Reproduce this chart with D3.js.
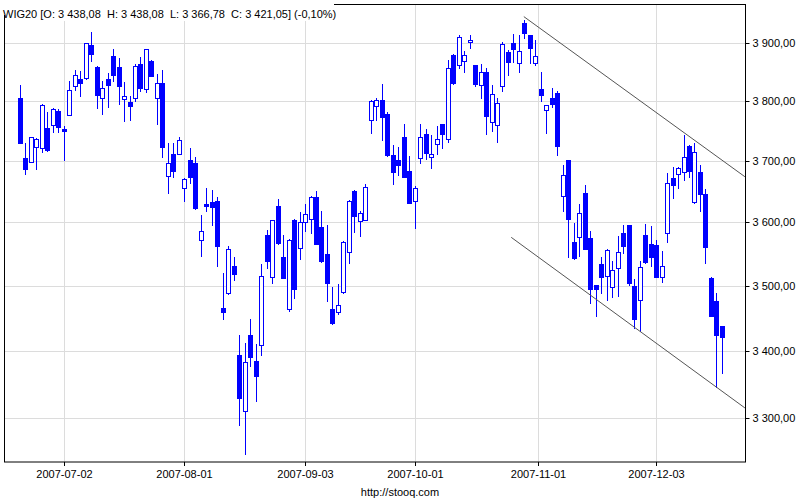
<!DOCTYPE html>
<html><head><meta charset="utf-8">
<script src="https://cdn.jsdelivr.net/npm/d3@7"></script>
<style>body{margin:0;background:#fff}svg{display:block}</style>
</head><body><svg id="c" width="800" height="500"></svg>
<script>
const dates = [
"2007-06-20","2007-06-21","2007-06-22","2007-06-25","2007-06-26","2007-06-27","2007-06-28","2007-06-29",
"2007-07-02","2007-07-03","2007-07-04","2007-07-05","2007-07-06","2007-07-09","2007-07-10","2007-07-11","2007-07-12","2007-07-13",
"2007-07-16","2007-07-17","2007-07-18","2007-07-19","2007-07-20","2007-07-23","2007-07-24","2007-07-25","2007-07-26","2007-07-27","2007-07-30","2007-07-31",
"2007-08-01","2007-08-02","2007-08-03","2007-08-06","2007-08-07","2007-08-08","2007-08-09","2007-08-10","2007-08-13","2007-08-14","2007-08-16","2007-08-17",
"2007-08-20","2007-08-21","2007-08-22","2007-08-23","2007-08-24","2007-08-27","2007-08-28","2007-08-29","2007-08-30","2007-08-31",
"2007-09-03","2007-09-04","2007-09-05","2007-09-06","2007-09-07","2007-09-10","2007-09-11","2007-09-12","2007-09-13","2007-09-14",
"2007-09-17","2007-09-18","2007-09-19","2007-09-20","2007-09-21","2007-09-24","2007-09-25","2007-09-26","2007-09-27","2007-09-28",
"2007-10-01","2007-10-02","2007-10-03","2007-10-04","2007-10-05","2007-10-08","2007-10-09","2007-10-10","2007-10-11","2007-10-12",
"2007-10-15","2007-10-16","2007-10-17","2007-10-18","2007-10-19","2007-10-22","2007-10-23","2007-10-24","2007-10-25","2007-10-26","2007-10-29","2007-10-30","2007-10-31",
"2007-11-02","2007-11-05","2007-11-06","2007-11-07","2007-11-08","2007-11-09","2007-11-12","2007-11-13","2007-11-14","2007-11-15","2007-11-16",
"2007-11-19","2007-11-20","2007-11-21","2007-11-22","2007-11-23","2007-11-26","2007-11-27","2007-11-28","2007-11-29","2007-11-30",
"2007-12-03","2007-12-04","2007-12-05","2007-12-06","2007-12-07","2007-12-10","2007-12-11","2007-12-12","2007-12-13","2007-12-14","2007-12-17","2007-12-18","2007-12-19"];

const open = [3806,3705,3700,3724,3723,3756,3760,3785,3754,3778,3826,3838,3840,3897,3860,3806,3838,3878,3859,3805,3800,3806,3864,3822,3870,3806,3832,3677,3713,3713,
3656,3703,3697,3573,3631,3634,3636,3466,3489,3532,3394,3310,3425,3385,3409,3581,3514,3628,3545,3465,3605,3560,
3602,3606,3642,3594,3551,3464,3460,3491,3554,3652,3603,3605,3770,3793,3803,3780,3710,3702,3740,3684,
3635,3705,3745,3707,3729,3762,3738,3880,3862,3869,3902,3863,3829,3851,3766,3760,3827,3885,3901,3867,3935,3915,3866,
3821,3786,3806,3815,3643,3702,3570,3577,3649,3576,3502,3535,3516,3499,3528,3584,3596,3500,3478,3581,3566,
3565,3515,3584,3673,3679,3683,3725,3634,3682,3647,3512,3477,3438.08];
const high = [3829,3731,3741,3739,3796,3782,3789,3788,3759,3835,3854,3852,3901,3920,3861,3836,3849,3890,3875,3833,3810,3864,3877,3891,3871,3847,3854,3731,3731,3740,
3673,3723,3707,3613,3656,3654,3642,3520,3563,3546,3425,3412,3449,3411,3534,3589,3605,3639,3580,3574,3607,3617,
3630,3643,3652,3620,3597,3499,3503,3571,3637,3654,3620,3663,3803,3806,3830,3783,3727,3724,3763,3709,
3660,3763,3754,3744,3759,3763,3871,3881,3915,3887,3915,3863,3864,3857,3828,3806,3902,3889,3916,3914,3941,3915,3906,
3850,3795,3824,3819,3694,3703,3600,3630,3662,3587,3502,3545,3558,3540,3579,3597,3597,3511,3539,3598,3595,
3573,3556,3681,3691,3691,3744,3727,3731,3694,3655,3515,3489,3438.08];
const low = [3730,3679,3699,3688,3715,3718,3749,3749,3702,3777,3820,3809,3838,3870,3789,3779,3791,3835,3796,3768,3770,3802,3818,3816,3843,3763,3708,3648,3674,3713,
3636,3664,3622,3547,3619,3596,3531,3449,3488,3510,3290,3248,3378,3325,3394,3528,3505,3567,3512,3462,3482,3543,
3587,3584,3566,3538,3477,3442,3457,3490,3536,3586,3579,3604,3748,3770,3736,3709,3663,3678,3674,3632,
3592,3698,3704,3689,3712,3723,3732,3831,3857,3851,3892,3827,3807,3746,3750,3732,3819,3845,3868,3851,3909,3866,3863,
3802,3747,3791,3710,3619,3546,3543,3547,3558,3474,3453,3489,3478,3483,3485,3552,3501,3436,3430,3537,3531,
3514,3507,3570,3640,3656,3669,3674,3632,3619,3536,3454,3346,3366.78];
const close = [3730,3687,3740,3738,3795,3719,3788,3757,3750,3820,3845,3832,3900,3881,3812,3823,3828,3846,3827,3810,3792,3861,3823,3890,3844,3832,3724,3697,3685,3735,
3671,3675,3624,3587,3627,3626,3564,3460,3558,3519,3329,3383,3391,3362,3516,3539,3604,3568,3513,3573,3496,3602,
3614,3642,3567,3539,3505,3443,3471,3570,3636,3612,3616,3658,3801,3803,3774,3710,3683,3695,3675,3633,
3656,3741,3714,3713,3738,3745,3857,3832,3911,3880,3906,3831,3851,3776,3813,3798,3899,3868,3890,3887,3918,3892,3878,
3812,3795,3796,3726,3678,3606,3544,3616,3559,3496,3495,3514,3557,3526,3554,3563,3505,3449,3530,3538,3546,
3515,3532,3664,3661,3689,3708,3685,3715,3647,3562,3454,3424.5,3421.05];

const yTicks = [3300, 3400, 3500, 3600, 3700, 3800, 3900];
const xTickLabels = ["2007-07-02","2007-08-01","2007-09-03","2007-10-01","2007-11-01","2007-12-03"];
const upperChannel = [[91.8, 3947], [132.1, 3675]];
const lowerChannel = [[89.5, 3577], [132.1, 3315]];
const titleText = "WIG20 [O: 3 438,08  H: 3 438,08  L: 3 366,78  C: 3 421,05] (-0,10%)";
const footerText = "http://stooq.com";

const L = 5, R = 745, T = 4.5, B = 462;
const BLUE = "#0000ff";
const FONT = "'Liberation Sans', Arial, sans-serif";

const svg = d3.select("#c");
const x = d3.scaleLinear().domain([-2.79, 132.12]).range([L, R]);
const y = d3.scaleLog().domain([3236, 3967.5]).range([B, 5]);

const tickPos = xTickLabels.map(lbl => {
  const k = dates.indexOf(lbl);
  if (k >= 0) return k;
  const j = dates.findIndex(d => d > lbl);
  return j - 0.5;
});

const crisp = v => Math.floor(v) + 0.5;

// gridlines
const grid = svg.append("g").attr("stroke", "#dcdcdc").attr("stroke-width", 1);
grid.selectAll("line.h").data(yTicks).join("line")
  .attr("x1", L).attr("x2", R)
  .attr("y1", d => crisp(y(d))).attr("y2", d => crisp(y(d)));
grid.selectAll("line.v").data(tickPos).join("line")
  .attr("y1", T).attr("y2", B)
  .attr("x1", d => crisp(x(d))).attr("x2", d => crisp(x(d)));

// candles
const idx = d3.range(dates.length);
const cg = svg.append("g");
cg.selectAll("line.w").data(idx).join("line")
  .attr("stroke", BLUE).attr("stroke-width", 1)
  .attr("x1", i => crisp(x(i))).attr("x2", i => crisp(x(i)))
  .attr("y1", i => Math.round(y(high[i]))).attr("y2", i => Math.round(y(low[i])) + 1);
cg.selectAll("rect.b").data(idx).join("rect")
  .attr("stroke", BLUE).attr("stroke-width", 1)
  .attr("fill", i => close[i] < open[i] ? BLUE : "#ffffff")
  .attr("x", i => Math.floor(x(i)) - 2 + 0.5)
  .attr("width", 4)
  .attr("y", i => Math.round(y(Math.max(open[i], close[i]))) + 0.5)
  .attr("height", i => Math.max(1, Math.round(y(Math.min(open[i], close[i]))) - Math.round(y(Math.max(open[i], close[i])))));

// channel lines
const ln = d3.line().x(d => x(d[0])).y(d => y(d[1]));
svg.append("g").selectAll("path").data([upperChannel, lowerChannel]).join("path")
  .attr("d", ln).attr("fill", "none").attr("stroke", "#555").attr("stroke-width", 1);

// clip anything past frame on the right
svg.append("rect").attr("x", R + 0.5).attr("y", 0).attr("width", 800 - R).attr("height", 500).attr("fill", "#fff");

// frame
svg.append("rect").attr("x", 4.5).attr("y", T).attr("width", R - 4).attr("height", B - T)
  .attr("fill", "none").attr("stroke", "#000").attr("stroke-width", 1);

// axes
const fmt = d3.formatLocale({decimal: ",", thousands: " ", grouping: [3], currency: ["", ""]}).format(",.2f");
const ya = svg.append("g").attr("transform", `translate(${R + 0.5},0)`)
  .call(d3.axisRight(y).tickValues(yTicks).tickSize(4).tickPadding(3).tickFormat(fmt).offset(0));
ya.select(".domain").remove();
ya.selectAll(".tick").attr("transform", d => `translate(0,${crisp(y(d))})`);
ya.selectAll("line").attr("stroke", "#000");
ya.selectAll("text").attr("fill", "#000").attr("font-family", FONT).attr("font-size", 11);

const xa = svg.append("g").attr("transform", `translate(0,${B})`)
  .call(d3.axisBottom(x).tickValues(tickPos).tickSize(4).tickPadding(4).offset(0)
    .tickFormat((d, i) => xTickLabels[i]));
xa.select(".domain").remove();
xa.selectAll(".tick").attr("transform", d => `translate(${crisp(x(d))},0)`);
xa.selectAll("line").attr("stroke", "#000");
xa.selectAll("text").attr("fill", "#000").attr("font-family", FONT).attr("font-size", 11);

// title
svg.append("rect").attr("x", 0).attr("y", 0).attr("width", 334).attr("height", 21).attr("fill", "#fff");
svg.append("line").attr("x1", 4.5).attr("x2", 4.5).attr("y1", 15).attr("y2", 21).attr("stroke", "#000");
svg.append("text").attr("x", 3).attr("y", 18).attr("font-family", FONT).attr("font-size", 11)
  .style("white-space", "pre").attr("fill", "#000").text(titleText);

svg.append("text").attr("x", 400).attr("y", 496).attr("text-anchor", "middle")
  .attr("font-family", FONT).attr("font-size", 11).attr("fill", "#000").text(footerText);
</script></body></html>
